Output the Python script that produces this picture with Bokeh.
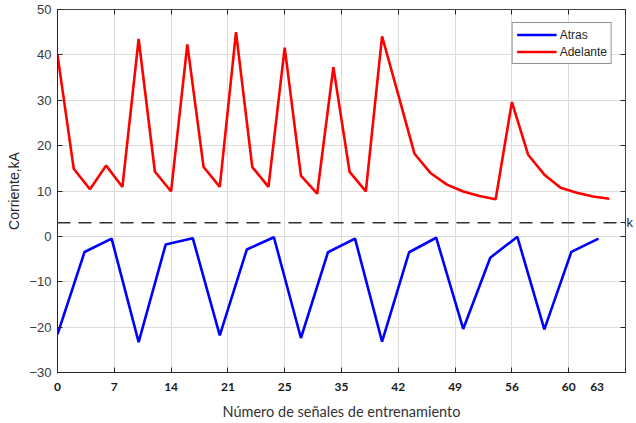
from bokeh.plotting import figure
from bokeh.models import LinearAxis, FixedTicker, Span, Range1d
from bokeh.embed import file_html
from bokeh.resources import INLINE

# ---- data ----
adelante_x = [0, 2, 4, 6, 8, 10, 12, 14, 16, 18, 20, 22, 24, 26, 28, 30, 32, 34,
              36, 38, 40, 42, 44, 46, 48, 50, 52, 54, 56, 58, 60, 62, 64, 66, 68]
adelante_y = [40.0, 14.9, 10.4, 15.6, 10.9, 43.5, 14.3, 9.9, 42.3, 15.3, 10.9, 45.0,
              15.3, 10.9, 41.6, 13.4, 9.4, 37.3, 14.2, 9.9, 44.1, 31.2, 18.2, 13.9,
              11.4, 9.9, 8.9, 8.2, 29.6, 18.0, 13.6, 10.7, 9.6, 8.8, 8.3]

atras_x = [0, 3.33, 6.67, 10, 13.33, 16.67, 20, 23.33, 26.67, 30, 33.33, 36.67,
           40, 43.33, 46.67, 50, 53.33, 56.67, 60, 63.33, 66.67]
atras_y = [-21.6, -3.45, -0.5, -23.3, -1.8, -0.4, -21.8, -2.9, -0.2, -22.4, -3.5,
           -0.5, -23.2, -3.5, -0.3, -20.4, -4.7, -0.1, -20.5, -3.4, -0.5]

umbral_k = 3

grid_x = [0, 7, 14, 21, 28, 35, 42, 49, 56, 63, 70]
label_x = [0, 7, 14, 21, 28, 35, 42, 49, 56, 63, 66.5]
label_x_text = ["0", "7", "14", "21", "25", "35", "42", "49", "56", "60", "63"]
y_ticks = [-30, -20, -10, 0, 10, 20, 30, 40, 50]

AX = "#262626"

p = figure(width=636, height=423, output_backend="svg", toolbar_location=None,
           x_range=Range1d(0, 70), y_range=Range1d(-30, 50),
           min_border_left=57, min_border_right=8, min_border_top=9, min_border_bottom=51,
           y_axis_label="Corriente,kA")
p.background_fill_color = "white"
p.border_fill_color = "white"
p.outline_line_color = "#444444"
p.outline_line_width = 1

# grids
p.xgrid.ticker = FixedTicker(ticks=grid_x)
p.ygrid.ticker = FixedTicker(ticks=y_ticks)
for g in (p.xgrid, p.ygrid):
    g.grid_line_color = "#dcdcdc"
    g.grid_line_width = 1

# bottom axis: inward tick marks only
xa = p.xaxis[0]
xa.ticker = FixedTicker(ticks=grid_x)
xa.major_tick_in = 5
xa.major_tick_out = 0
xa.minor_tick_line_color = None
xa.axis_line_color = AX
xa.major_tick_line_color = AX
xa.major_label_text_font_size = "0px"
xa.major_label_standoff = 0

# second bottom axis: the tick texts and the axis title
xl = LinearAxis(ticker=FixedTicker(ticks=label_x),
                major_label_overrides={t: s for t, s in zip(label_x, label_x_text)},
                major_tick_in=0, major_tick_out=0, minor_tick_line_color=None,
                axis_line_color=None, major_tick_line_color=None,
                major_label_text_font="Lato", major_label_text_font_style="bold",
                major_label_text_font_size="12px", major_label_text_color="#1a1a1a",
                major_label_standoff=10,
                axis_label="Número de señales de entrenamiento",
                axis_label_text_font="Lato", axis_label_text_font_style="normal",
                axis_label_text_font_size="14.5px", axis_label_text_color="#333333",
                axis_label_standoff=9)
p.add_layout(xl, "below")

# left axis
ya = p.yaxis[0]
ya.ticker = FixedTicker(ticks=y_ticks)
ya.major_tick_in = 5
ya.major_tick_out = 0
ya.minor_tick_line_color = None
ya.axis_line_color = AX
ya.major_tick_line_color = AX
ya.major_label_text_font = "Liberation Sans"
ya.major_label_text_font_size = "13px"
ya.major_label_text_color = "#3a3a3a"
ya.major_label_standoff = 6
ya.axis_label_text_font = "Liberation Sans"
ya.axis_label_text_font_style = "normal"
ya.axis_label_text_font_size = "14px"
ya.axis_label_text_color = AX
ya.axis_label_standoff = 4

# top axis (ticks only)
top = LinearAxis(ticker=FixedTicker(ticks=grid_x), major_tick_in=5, major_tick_out=0,
                 minor_tick_line_color=None, axis_line_color=None,
                 major_tick_line_color=AX, major_label_text_font_size="0px",
                 major_label_standoff=0)
p.add_layout(top, "above")

# right axis (ticks + "k" label at the threshold)
r_ticks = y_ticks + [umbral_k]
r_over = {t: "" for t in y_ticks}
r_over[umbral_k] = "k"
right = LinearAxis(ticker=FixedTicker(ticks=r_ticks), major_label_overrides=r_over,
                   major_tick_in=5, major_tick_out=0, minor_tick_line_color=None,
                   axis_line_color=None, major_tick_line_color=AX,
                   major_label_text_font="Liberation Sans", major_label_text_font_size="13px",
                   major_label_text_color=AX, major_label_standoff=1)
p.add_layout(right, "right")

# threshold
p.add_layout(Span(location=umbral_k, dimension="width", line_color="#303030",
                  line_width=1.3, line_dash="13 8"))

# series
p.line(atras_x, atras_y, line_color="#0000ff", line_width=2.6, legend_label="Atras")
p.line(adelante_x, adelante_y, line_color="#ff0000", line_width=2.6, legend_label="Adelante")

lg = p.legend[0]
lg.location = "top_right"
lg.margin = 13
lg.padding = 4
lg.spacing = 2
lg.glyph_width = 40
lg.glyph_height = 15
lg.label_height = 15
lg.label_standoff = 3
lg.label_text_font = "Liberation Sans"
lg.label_text_font_size = "12px"
lg.label_text_color = AX
lg.border_line_color = AX
lg.border_line_width = 1
lg.background_fill_alpha = 1

open("out.html", "w").write(file_html(p, INLINE))
